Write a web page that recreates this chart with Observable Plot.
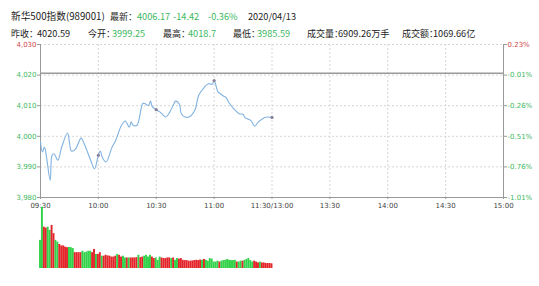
<!DOCTYPE html>
<html><head><meta charset="utf-8">
<script src="https://cdn.jsdelivr.net/npm/d3@7"></script>
<script src="https://cdn.jsdelivr.net/npm/@observablehq/plot@0.6"></script>
<style>
html,body{margin:0;padding:0;background:#fff;}
#wrap{position:relative;width:539px;height:286px;overflow:hidden;font-family:"Noto Sans CJK SC","Noto Sans",sans-serif;}
.hd{position:absolute;font-size:9.2px;line-height:13px;color:#222;white-space:nowrap;}
.tt{font-size:9.7px;}
.lb{font-size:9px;}
.cl{letter-spacing:-5px;}
.g{color:#3db862;}
#price{position:absolute;left:0;top:36px;}
#vol{position:absolute;left:0;top:198px;}
</style></head>
<body><div id="wrap"></div>
<script>
// ---- header data ----
const header1 = [
  {x: 11, t: "新华500指数(989001)", tt: true},
  {x: 110, t: "最新", lab: true}, {x: 137, t: "4006.17", g: true}, {x: 173, t: "-14.42", g: true}, {x: 208, t: "-0.36%", g: true},
  {x: 248, t: "2020/04/13"}
];
const header2 = [
  {x: 11, t: "昨收", lab: true}, {x: 37, t: "4020.59"},
  {x: 88, t: "今开", lab: true}, {x: 112, t: "3999.25", g: true},
  {x: 163, t: "最高", lab: true}, {x: 188, t: "4018.7", g: true},
  {x: 233, t: "最低", lab: true}, {x: 257, t: "3985.59", g: true},
  {x: 307, t: "成交量", lab: true}, {x: 338, t: "6909.26万手"},
  {x: 402, t: "成交额", lab: true}, {x: 433, t: "1069.66亿"}
];
// ---- axis data ----
const xTicks = [0, 30, 60, 90, 120, 150, 180, 210, 240];
const xTickLabels = ["09:30", "10:00", "10:30", "11:00", "11:30/13:00", "13:30", "14:00", "14:30", "15:00"];
const yTicks = [4030, 4020, 4010, 4000, 3990, 3980];
const yTickLabels = ["4,030", "4,020", "4,010", "4,000", "3,990", "3,980"];
const pctLabels = ["0.23%", "-0.01%", "-0.26%", "-0.51%", "-0.76%", "-1.01%"];
const prevClose = 4020.59;
// ---- price series (minute since 09:30, index value) ----
const priceMin = [0,1,2,3,5,6,7,9,11,14,15,16,18,21,22,26,28,30,31,32,34,37,39,42,44,46,47,48,50,53,54,56,57,58,60,62,65,67,69,70,72,73,75,77,80,82,85,87,89,90,92,93,95,96,98,100,103,105,106,109,111,113,116,118,120];
const priceVal = [3998.3,3994.9,3996.5,3993.8,3985.6,3993.8,3994.3,3992.2,3996.5,4001.1,3998.1,3995.2,3995.7,3999.4,3998.5,3992.2,3989.4,3993.8,3995.2,3993.2,3991.6,3996.3,3998.7,4003.6,4005.0,4003.0,4004.7,4003.6,4003.6,4010.7,4010.7,4010.1,4011.5,4009.6,4008.7,4007.9,4006.3,4007.9,4010.5,4011.5,4010.5,4007.4,4006.3,4006.3,4008.5,4013.4,4016.1,4017.2,4017.0,4018.2,4014.5,4014.0,4013.1,4012.8,4010.7,4009.1,4007.4,4007.2,4006.1,4005.2,4003.3,4004.7,4006.1,4006.3,4006.17];
const markMin = [30, 60, 90, 120];
// ---- volume per minute (万手) and direction ----
const volumes = [96,209,141,138,141,130,147,119,96,90,82,77,77,73,71,72,71,68,54,54,54,54,59,54,56,59,59,54,65,48,48,54,42,42,45,43,42,39,39,42,48,45,39,42,36,36,36,36,36,36,37,45,37,39,42,45,39,45,39,34,36,28,39,36,34,34,36,36,34,36,28,34,32,34,28,27,27,25,25,26,27,28,27,29,28,31,28,25,34,32,22,22,25,22,25,27,28,31,28,27,27,28,22,22,25,25,28,31,34,27,22,25,22,19,22,19,19,17,17,17,16];
const volDir = "uudduuddu uddddduuudddduuuuudduddudddddddudduudud dddudduuuud duuuddddduduud ddddddddddduduuuuuuuduuuuuuuuduuduuuuuddduddddddd".replace(/ /g, "");

const GREEN = "#3db862", RED = "#d0454c";
const wrap = document.getElementById("wrap");
function addLine(items, top) {
  for (const it of items) {
    const s = document.createElement("span");
    s.className = "hd" + (it.g ? " g" : "") + (it.lab ? " lb" : "") + (it.tt ? " tt" : "");
    s.style.left = it.x + "px"; s.style.top = top + "px";
    s.textContent = it.t;
    if (it.lab) {
      const c = document.createElement("span");
      c.className = "cl"; c.textContent = "：";
      s.appendChild(c);
    }
    wrap.appendChild(s);
  }
}
addLine(header1, 10);
addLine(header2, 27);

const price = priceMin.map((m, i) => ({m, v: priceVal[i]}));
const marks = price.filter(d => markMin.includes(d.m));
const yT = yTicks.map((v, i) => ({v, l: yTickLabels[i], p: pctLabels[i], c: i === 0 ? RED : GREEN}));
const xT = xTicks.map((m, i) => ({m, l: xTickLabels[i]}));

const p1 = Plot.plot({
  width: 539, height: 180,
  marginLeft: 40, marginRight: 36, marginTop: 8, marginBottom: 19,
  x: {domain: [0, 240], axis: null},
  y: {domain: [3980, 4030], axis: null},
  color: {type: "identity"},
  style: {fontFamily: "DejaVu Sans, sans-serif", fontSize: "7px", background: "transparent"},
  marks: [
    Plot.ruleY(yT, {y: "v", stroke: "#d6d6d6", strokeDasharray: "2,2"}),
    Plot.ruleX(xT, {x: "m", stroke: "#d6d6d6", strokeDasharray: "2,2"}),
    Plot.ruleY([prevClose], {stroke: "#9a9a9a", strokeWidth: 1.5}),
    Plot.ruleX([0, 240], {stroke: "#999"}),
    Plot.ruleY([3980], {stroke: "#999"}),
    Plot.axisY({ticks: yTicks, tickSize: 3, tickFormat: () => "", stroke: "#999", label: null}),
    Plot.axisY({ticks: yTicks, anchor: "right", tickSize: 3, tickFormat: () => "", stroke: "#999", label: null}),
    Plot.axisX({ticks: xTicks, tickSize: 2, tickFormat: () => "", stroke: "#999", label: null}),
    Plot.text(yT, {x: () => 0, y: "v", text: "l", fill: "c", textAnchor: "end", dx: -4}),
    Plot.text(yT, {x: () => 240, y: "v", text: "p", fill: "c", textAnchor: "start", dx: 4}),
    Plot.text(xT, {x: "m", y: () => 3980, text: "l", fill: "#444", dy: 8}),
    Plot.line(price, {x: "m", y: "v", stroke: "#80b2e0", strokeWidth: 1.1, curve: "catmull-rom"}),
    Plot.dot(marks, {x: "m", y: "v", r: 1.6, fill: "#8b7f97"})
  ]
});
p1.id = "price";
wrap.appendChild(p1);

const vol = volumes.map((v, i) => ({i, v, c: volDir[i] === "d" ? "#e3262b" : "#33d24b"}));
const p2 = Plot.plot({
  width: 539, height: 72,
  marginLeft: 40, marginRight: 36, marginTop: 7, marginBottom: 2,
  x: {domain: [0, 240], axis: null},
  y: {domain: [0, 215], axis: null},
  color: {type: "identity"},
  style: {background: "transparent"},
  marks: [
    Plot.rectY(vol, {x1: d => d.i - 0.5, x2: d => d.i + 0.5, y: "v", fill: "c", inset: 0})
  ]
});
p2.id = "vol";
wrap.appendChild(p2);
</script></body></html>
